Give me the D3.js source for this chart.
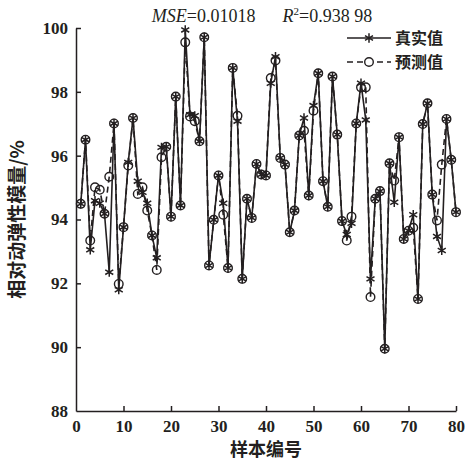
<!DOCTYPE html>
<html>
<head>
<meta charset="utf-8">
<script src="https://cdn.jsdelivr.net/npm/d3@7"></script>
<style>
  html, body { margin: 0; padding: 0; background: #fff; }
  svg { display: block; }
</style>
</head>
<body>
<svg id="chart" width="475" height="463"></svg>
<script>
const sampleIds = d3.range(1, 81);
const trueValues = [
  94.49, 96.50, 93.05, 94.59, 94.51, 94.18, 92.35, 97.01, 91.80, 93.76,
  95.79, 97.18, 95.20, 94.85, 94.51, 93.50, 92.80, 96.26, 96.28, 94.09,
  97.85, 94.44, 99.94, 97.28, 97.25, 96.45, 99.71, 92.56, 93.99, 95.38,
  94.51, 92.48, 98.75, 97.08, 92.14, 94.65, 94.05, 95.74, 95.41, 95.38,
  98.27, 99.10, 95.93, 95.72, 93.60, 94.28, 96.63, 97.18, 94.75, 97.57,
  98.58, 95.20, 94.40, 98.48, 96.66, 93.95, 93.53, 93.88, 97.01, 98.27,
  97.12, 92.14, 94.65, 94.89, 89.95, 95.76, 94.54, 96.58, 93.39, 93.65,
  94.15, 91.51, 96.99, 97.64, 94.78, 93.47, 93.03, 97.15, 95.87, 94.23
];
const predValues = [
  94.49, 96.50, 93.34, 95.01, 94.93, 94.18, 95.34, 97.01, 91.98, 93.76,
  95.69, 97.18, 94.80, 95.01, 94.28, 93.50, 92.42, 95.95, 96.28, 94.09,
  97.85, 94.44, 99.55, 97.23, 97.08, 96.45, 99.71, 92.56, 93.99, 95.38,
  94.15, 92.48, 98.75, 97.25, 92.14, 94.65, 94.05, 95.74, 95.41, 95.38,
  98.43, 98.98, 95.93, 95.72, 93.60, 94.28, 96.63, 96.78, 94.75, 97.41,
  98.58, 95.20, 94.40, 98.48, 96.66, 93.95, 93.34, 94.09, 97.01, 98.14,
  98.14, 91.57, 94.65, 94.89, 89.95, 95.76, 95.22, 96.58, 93.39, 93.65,
  93.74, 91.51, 96.99, 97.64, 94.78, 93.97, 95.72, 97.15, 95.87, 94.23
];
const xTicks = [0, 10, 20, 30, 40, 50, 60, 70, 80];
const yTicks = [88, 90, 92, 94, 96, 98, 100];
const legendLabels = ["真实值", "预测值"];

const svg = d3.select("#chart");
const x = d3.scaleLinear().domain([0, 80]).range([76, 456]);
const y = d3.scaleLinear().domain([88, 100]).range([411, 28]);
const ink = "#231f20";
const numFont = "'Liberation Serif', 'Times New Roman', serif";
const cjkFont = "'Noto Sans CJK SC', sans-serif";

// axes
const xAxis = svg.append("g").attr("transform", `translate(0,${y(88)})`)
  .call(d3.axisBottom(x).tickValues(xTicks).tickSizeInner(-5).tickSizeOuter(0).tickPadding(7));
const yAxis = svg.append("g").attr("transform", `translate(${x(0)},0)`)
  .call(d3.axisLeft(y).tickValues(yTicks).tickSizeInner(-5).tickSizeOuter(0).tickPadding(8));
[xAxis, yAxis].forEach(g => {
  g.select(".domain").attr("stroke", ink).attr("stroke-width", 1.5);
  g.selectAll(".tick line").attr("stroke", ink).attr("stroke-width", 1.5);
  g.selectAll(".tick text").attr("fill", ink)
    .style("font-family", numFont).style("font-size", "17px").style("font-weight", "bold");
});
xAxis.selectAll(".tick text").attr("dy", "0.8em");
yAxis.selectAll(".tick line").filter(d => d === 88).remove();
xAxis.selectAll(".tick line").filter(d => d === 0).remove();

// lines
const pts = sampleIds.map((id, i) => ({id, t: trueValues[i], p: predValues[i]}));
const lineT = d3.line().x(d => x(d.id)).y(d => y(d.t));
const lineP = d3.line().x(d => x(d.id)).y(d => y(d.p));
svg.append("path").datum(pts).attr("d", lineP).attr("fill", "none")
  .attr("stroke", ink).attr("stroke-width", 1.6).attr("stroke-dasharray", "6,4");
svg.append("path").datum(pts).attr("d", lineT).attr("fill", "none")
  .attr("stroke", ink).attr("stroke-width", 1.6);

const ast = d3.symbol().type(d3.symbolAsterisk).size(60);
svg.append("g").selectAll("path").data(pts).join("path")
  .attr("d", ast).attr("transform", d => `translate(${x(d.id)},${y(d.t)})`)
  .attr("fill", "none").attr("stroke", ink).attr("stroke-width", 1.5);
svg.append("g").selectAll("circle").data(pts).join("circle")
  .attr("cx", d => x(d.id)).attr("cy", d => y(d.p)).attr("r", 4.3)
  .attr("fill", "none").attr("stroke", ink).attr("stroke-width", 1.4);

// legend
const lg = svg.append("g");
const ly = [38, 62];
lg.append("line").attr("x1", 347).attr("x2", 391).attr("y1", ly[0]).attr("y2", ly[0])
  .attr("stroke", ink).attr("stroke-width", 1.6);
lg.append("path").attr("d", ast).attr("transform", `translate(369,${ly[0]})`)
  .attr("fill", "none").attr("stroke", ink).attr("stroke-width", 1.5);
lg.append("line").attr("x1", 347).attr("x2", 391).attr("y1", ly[1]).attr("y2", ly[1])
  .attr("stroke", ink).attr("stroke-width", 1.6).attr("stroke-dasharray", "6,4");
lg.append("circle").attr("cx", 369).attr("cy", ly[1]).attr("r", 4.3)
  .attr("fill", "#fff").attr("stroke", ink).attr("stroke-width", 1.4);
legendLabels.forEach((t, i) => {
  lg.append("text").attr("x", 395).attr("y", ly[i]).attr("dy", "0.36em")
    .attr("fill", ink).style("font-family", cjkFont).style("font-size", "16px")
    .style("font-weight", "bold").text(t);
});

// title
const title = svg.append("text").attr("x", 262).attr("y", 22).attr("text-anchor", "middle")
  .attr("fill", ink).style("font-family", numFont).style("font-size", "18px");
title.append("tspan").style("font-style", "italic").text("MSE");
title.append("tspan").text("=0.01018\u2003\u2002");
title.append("tspan").style("font-style", "italic").text("R");
title.append("tspan").attr("dy", -7).style("font-size", "11px").text("2");
title.append("tspan").attr("dy", 7).text("=0.938 98");

// axis titles
svg.append("text").attr("x", x(40)).attr("y", 456).attr("text-anchor", "middle")
  .attr("fill", ink).style("font-family", cjkFont).style("font-size", "18px")
  .style("font-weight", "bold").text("样本编号");
svg.append("text").attr("transform", `translate(24,${y(94)}) rotate(-90)`)
  .attr("text-anchor", "middle").attr("fill", ink)
  .style("font-family", cjkFont).style("font-size", "19px").style("font-weight", "bold")
  .text("相对动弹性模量/%");
</script>
</body>
</html>
